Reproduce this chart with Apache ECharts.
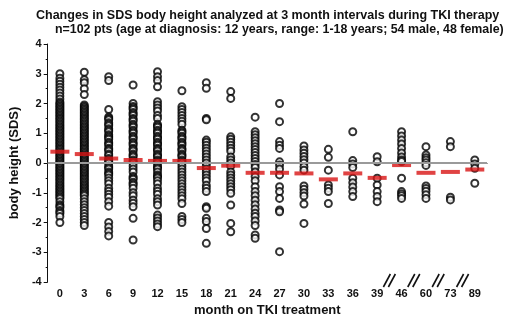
<!DOCTYPE html>
<html>
<head>
<meta charset="utf-8">
<script src="https://cdn.jsdelivr.net/npm/echarts@6/dist/echarts.min.js"></script>
<style>
  html, body { margin: 0; padding: 0; background: #fff; }
  #chart { width: 520px; height: 324px; }
</style>
</head>
<body>
<div id="chart"></div>
<script>
// month on TKI treatment (axis breaks after 39)
const months = ['0', '3', '6', '9', '12', '15', '18', '21', '24', '27', '30', '33', '36', '39', '46', '60', '73', '89'];

// individual SDS values per visit
const m0 = [3.0, 2.85, 2.75, 2.65, 2.55, 2.45, 2.35, 2.25, 2.15, 2.05, 2.0, 1.95, 1.9, 1.85, 1.8, 1.75, 1.7, 1.65, 1.6, 1.55, 1.5, 1.45, 1.4, 1.35, 1.3, 1.25, 1.2, 1.15, 1.1, 1.05, 1.0, 0.95, 0.9, 0.85, 0.8, 0.75, 0.7, 0.65, 0.6, 0.55, 0.5, 0.45, 0.4, 0.35, 0.3, 0.25, 0.2, 0.15, 0.1, 0.05, 0.0, -0.05, -0.1, -0.15, -0.2, -0.25, -0.3, -0.35, -0.4, -0.45, -0.5, -0.55, -0.6, -0.65, -0.7, -0.75, -0.8, -0.85, -0.9, -0.95, -1.0, -1.05, -1.1, -1.15, -1.2, -1.3, -1.4, -1.45, -1.5, -1.6, -1.65, -1.7, -1.8, -2.0];
const m3 = [3.05, 2.8, 2.7, 2.5, 2.3, 1.95, 1.9, 1.85, 1.8, 1.75, 1.7, 1.65, 1.6, 1.55, 1.5, 1.45, 1.4, 1.35, 1.3, 1.25, 1.2, 1.15, 1.1, 1.05, 1.0, 0.95, 0.9, 0.85, 0.8, 0.75, 0.7, 0.65, 0.6, 0.55, 0.5, 0.45, 0.4, 0.35, 0.3, 0.25, 0.2, 0.15, 0.1, 0.05, 0.0, -0.05, -0.1, -0.15, -0.2, -0.25, -0.3, -0.35, -0.4, -0.45, -0.5, -0.55, -0.6, -0.65, -0.7, -0.75, -0.8, -0.85, -0.9, -0.95, -1.0, -1.05, -1.1, -1.2, -1.3, -1.4, -1.5, -1.6, -1.7, -1.8, -1.9, -2.0, -2.1];
const m6 = [2.9, 2.77, 1.8, 1.55, 1.5, 1.45, 1.35, 1.3, 1.25, 1.15, 1.1, 1.05, 0.95, 0.9, 0.85, 0.8, 0.7, 0.65, 0.6, 0.5, 0.45, 0.4, 0.3, 0.25, 0.15, 0.1, 0.05, 0.0, -0.1, -0.15, -0.2, -0.3, -0.35, -0.4, -0.5, -0.6, -0.7, -0.85, -0.95, -1.05, -1.15, -1.3, -1.45, -2.0, -2.15, -2.3, -2.45];
const m9 = [2.62, 2.0, 1.9, 1.85, 1.8, 1.7, 1.65, 1.6, 1.5, 1.45, 1.4, 1.3, 1.25, 1.2, 1.1, 1.05, 1.0, 0.9, 0.85, 0.8, 0.7, 0.65, 0.6, 0.5, 0.45, 0.4, 0.3, 0.25, 0.2, 0.1, 0.05, 0.0, -0.1, -0.2, -0.3, -0.45, -0.5, -0.55, -0.65, -0.7, -0.75, -0.85, -1.0, -1.1, -1.25, -1.35, -1.47, -1.86, -2.59];
const m12 = [3.07, 2.9, 2.77, 2.56, 2.06, 1.95, 1.85, 1.75, 1.6, 1.5, 1.3, 1.25, 1.2, 1.1, 1.05, 1.0, 0.9, 0.85, 0.8, 0.7, 0.65, 0.6, 0.5, 0.45, 0.4, 0.3, 0.25, 0.2, 0.1, 0.05, 0.0, -0.1, -0.15, -0.2, -0.3, -0.4, -0.45, -0.5, -0.6, -0.7, -0.85, -0.95, -1.05, -1.2, -1.3, -1.41, -1.75, -1.85, -1.95, -2.05, -2.14];
const m15 = [2.43, 1.89, 1.8, 1.7, 1.6, 1.5, 1.4, 1.3, 1.1, 1.05, 1.0, 0.9, 0.85, 0.8, 0.7, 0.65, 0.6, 0.5, 0.45, 0.4, 0.3, 0.25, 0.2, 0.1, 0.05, 0.0, -0.1, -0.2, -0.3, -0.4, -0.5, -0.6, -0.7, -0.8, -0.9, -1.0, -1.1, -1.2, -1.36, -1.8, -1.9, -2.0];
const m18 = [2.7, 2.51, 1.5, 1.45, 0.77, 0.7, 0.6, 0.5, 0.4, 0.3, 0.2, 0.1, 0.0, -0.1, -0.2, -0.3, -0.4, -0.5, -0.6, -0.75, -0.85, -0.96, -1.47, -1.52, -1.86, -1.97, -2.2, -2.7];
const m21 = [2.4, 2.17, 0.88, 0.8, 0.7, 0.6, 0.5, 0.4, 0.2, 0.1, 0.0, -0.1, -0.3, -0.4, -0.5, -0.6, -0.7, -0.8, -0.9, -1.02, -1.41, -2.03, -2.31];
const m24 = [1.54, 1.05, 0.95, 0.85, 0.75, 0.65, 0.55, 0.45, 0.35, 0.25, 0.15, 0.05, -0.05, -0.15, -0.3, -0.45, -0.6, -0.8, -0.96, -1.1, -1.25, -1.4, -1.55, -1.69, -1.8, -1.95, -2.1, -2.42, -2.53];
const m27 = [2.0, 1.39, 0.72, 0.6, 0.49, 0.04, -0.07, -0.2, -0.4, -0.8, -0.96, -1.19, -1.58, -1.64, -2.98];
const m30 = [0.57, 0.44, 0.33, 0.22, 0.11, 0.0, -0.13, -0.24, -0.77, -0.88, -1.0, -1.11, -1.38, -2.03];
const m33 = [0.46, 0.19, -0.24, -0.74, -0.85, -0.96, -1.36];
const m36 = [1.05, 0.08, -0.03, -0.15, -0.51, -0.66, -0.81, -0.96, -1.13];
const m39 = [0.21, 0.04, -0.51, -0.74, -0.96, -1.13, -1.3];
const m46 = [1.05, 0.91, 0.77, 0.64, 0.49, 0.34, 0.2, 0.1, 0.05, -0.51, -0.96, -1.03, -1.1, -1.19];
const m60 = [0.55, 0.27, 0.18, 0.1, 0.01, -0.08, -0.77, -0.86, -0.95, -1.07, -1.19];
const m73 = [0.72, 0.55, -1.15, -1.24];
const m89 = [0.1, -0.03, -0.18, -0.68];

const perMonth = [m0, m3, m6, m9, m12, m15, m18, m21, m24, m27, m30, m33, m36, m39, m46, m60, m73, m89];

// mean SDS per visit (red bars)
const meanSds = [0.38, 0.30, 0.15, 0.10, 0.07, 0.07, -0.17, -0.09, -0.33, -0.33, -0.35, -0.55, -0.35, -0.50, -0.07, -0.33, -0.30, -0.22];

const yTicks = [-4, 4, 1]; // min, max, interval

const FONT = "'Liberation Sans', Arial, sans-serif";

const points = [];
perMonth.forEach((vals, i) => vals.forEach((v) => points.push([i, v])));

const chart = echarts.init(document.getElementById('chart'), null, { renderer: 'canvas' });

chart.setOption({
  animation: false,
  backgroundColor: '#fff',
  title: [
    {
      text: 'Changes in SDS body height analyzed at 3 month intervals during TKI therapy',
      left: 36, top: 9, padding: 0,
      textStyle: { fontFamily: FONT, fontSize: 12.5, fontWeight: 'bold', color: '#111' }
    },
    {
      text: 'n=102 pts (age at diagnosis: 12 years, range: 1-18 years; 54 male, 48 female)',
      left: 55, top: 24, padding: 0,
      textStyle: { fontFamily: FONT, fontSize: 12.4, fontWeight: 'bold', color: '#111' }
    }
  ],
  grid: { left: 46, right: 33, top: 44, bottom: 42 },
  xAxis: {
    type: 'category',
    data: months,
    name: 'month on TKI treatment',
    nameLocation: 'middle',
    nameGap: 22,
    nameTextStyle: { fontFamily: FONT, fontSize: 13, fontWeight: 'bold', color: '#111' },
    axisLine: { lineStyle: { color: '#111', width: 1 } },
    axisTick: { alignWithLabel: true, length: 4, lineStyle: { color: '#111' } },
    axisLabel: { fontFamily: FONT, fontSize: 11, fontWeight: 'bold', color: '#111', margin: 6 },
    splitLine: { show: false }
  },
  yAxis: {
    type: 'value',
    min: yTicks[0],
    max: yTicks[1],
    interval: yTicks[2],
    name: 'body height (SDS)',
    nameLocation: 'middle',
    nameGap: 24,
    nameTextStyle: { fontFamily: FONT, fontSize: 13, fontWeight: 'bold', color: '#111' },
    axisLine: { show: true, lineStyle: { color: '#111', width: 1 } },
    axisTick: { show: true, length: 4, lineStyle: { color: '#111' } },
    minorTick: { show: true, splitNumber: 2, length: 2, lineStyle: { color: '#111' } },
    axisLabel: { fontFamily: FONT, fontSize: 11, fontWeight: 'bold', color: '#111', margin: 6 },
    splitLine: { show: false }
  },
  series: [
    {
      name: 'zero',
      type: 'line',
      data: [],
      z: 1,
      markLine: {
        silent: true,
        symbol: 'none',
        label: { show: false },
        lineStyle: { color: '#9a9a9a', width: 2, type: 'solid' },
        data: [{ yAxis: 0 }]
      }
    },
    {
      name: 'patients',
      type: 'scatter',
      data: points,
      symbol: 'emptyCircle',
      symbolSize: 7,
      z: 2,
      itemStyle: { color: '#000', borderColor: '#000', borderWidth: 1 }
    },
    {
      name: 'mean',
      type: 'scatter',
      data: meanSds.map((v, i) => [i, v]),
      symbol: 'rect',
      symbolSize: [19, 4],
      z: 3,
      itemStyle: { color: '#d81414' }
    }
  ]
});

// axis break marks "//" between the late visits
const yBase = chart.convertToPixel({ yAxisIndex: 0 }, yTicks[0]);
const breaks = [];
for (let i = 13; i < months.length - 1; i++) {
  const xa = chart.convertToPixel({ xAxisIndex: 0 }, months[i]);
  const xb = chart.convertToPixel({ xAxisIndex: 0 }, months[i + 1]);
  const cx = (xa + xb) / 2;
  [-2.5, 2.5].forEach((dx) => {
    breaks.push({
      type: 'line',
      shape: { x1: cx + dx - 3.5, y1: yBase + 5, x2: cx + dx + 3.5, y2: yBase - 8 },
      style: { stroke: '#111', lineWidth: 1.6 },
      z: 10
    });
  });
}
chart.setOption({ graphic: breaks });
</script>
</body>
</html>
